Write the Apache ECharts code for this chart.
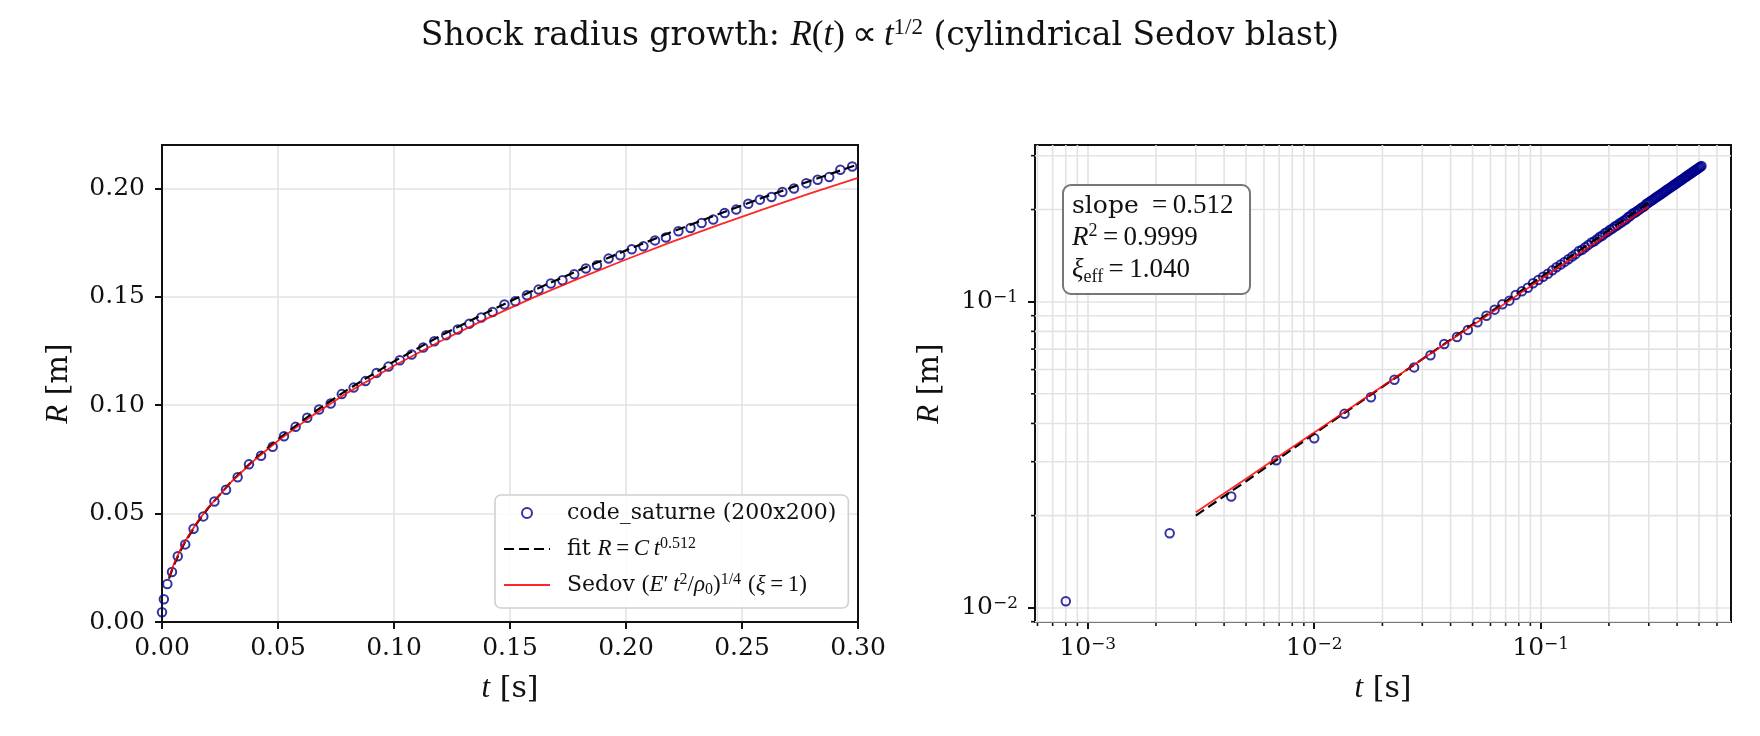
<!DOCTYPE html>
<html>
<head>
<meta charset="utf-8">
<title>Shock radius growth</title>
<script src="https://cdn.jsdelivr.net/npm/echarts@6/dist/echarts.min.js"></script>
<style>
  html, body { margin: 0; padding: 0; background: #fff; }
  #chart { width: 1760px; height: 736px; }
</style>
</head>
<body>
<div id="chart"></div>
<script>
// shock radius from code_saturne (200x200), t in s, R in m
const timeS = [
  0, 0.0008, 0.0023, 0.0043, 0.0068, 0.0100, 0.0136, 0.0178, 0.0226, 0.0276,
  0.0326, 0.0375, 0.0427, 0.0477, 0.0526, 0.0576, 0.0626, 0.0677, 0.0727, 0.0775,
  0.0826, 0.0877, 0.0925, 0.0976, 0.1025, 0.1076, 0.1126, 0.1174, 0.1225, 0.1275,
  0.1325, 0.1376, 0.1425, 0.1476, 0.1523, 0.1573, 0.1623, 0.1676, 0.1726, 0.1777,
  0.1827, 0.1875, 0.1925, 0.1975, 0.2025, 0.2075, 0.2125, 0.2172, 0.2226, 0.2278,
  0.2326, 0.2376, 0.2425, 0.2475, 0.2527, 0.2577, 0.2627, 0.2674, 0.2724, 0.2777,
  0.2826, 0.2876, 0.2924, 0.2975,
  0.3025, 0.3075, 0.3125, 0.3175, 0.3225, 0.3275, 0.3325, 0.3375, 0.3425, 0.3475,
  0.3525, 0.3575, 0.3625, 0.3675, 0.3725, 0.3775, 0.3825, 0.3875, 0.3925, 0.3975,
  0.4025, 0.4075, 0.4125, 0.4175, 0.4225, 0.4275, 0.4325, 0.4375, 0.4425, 0.4475,
  0.4525, 0.4575, 0.4625, 0.4675, 0.4725, 0.4775, 0.4825, 0.4875, 0.4925, 0.4975,
  0.5025, 0.5075, 0.5125
];
const radiusM = [
  0.0045, 0.0105, 0.0175, 0.0231, 0.0303, 0.0358, 0.0430, 0.0487, 0.0556, 0.0610,
  0.0668, 0.0727, 0.0767, 0.0808, 0.0857, 0.0900, 0.0942, 0.0980, 0.1008, 0.1051,
  0.1081, 0.1111, 0.1149, 0.1178, 0.1207, 0.1234, 0.1266, 0.1295, 0.1323, 0.1349,
  0.1376, 0.1404, 0.1430, 0.1464, 0.1479, 0.1507, 0.1533, 0.1561, 0.1576, 0.1604,
  0.1630, 0.1645, 0.1676, 0.1691, 0.1719, 0.1733, 0.1760, 0.1773, 0.1802, 0.1817,
  0.1840, 0.1856, 0.1886, 0.1902, 0.1929, 0.1948, 0.1960, 0.1983, 0.1999, 0.2024,
  0.2040, 0.2052, 0.2086, 0.2101,
  0.2119, 0.2137, 0.2154, 0.2172, 0.2189, 0.2207, 0.2224, 0.2241, 0.2258, 0.2275,
  0.2291, 0.2308, 0.2325, 0.2341, 0.2357, 0.2373, 0.2389, 0.2405, 0.2421, 0.2437,
  0.2452, 0.2468, 0.2483, 0.2499, 0.2514, 0.2529, 0.2544, 0.2559, 0.2574, 0.2589,
  0.2604, 0.2619, 0.2633, 0.2648, 0.2662, 0.2677, 0.2691, 0.2705, 0.2719, 0.2734,
  0.2748, 0.2761, 0.2775
];
// fit R = C t^0.512 and Sedov (xi = 1) curves, sampled
const curveT = [0.003, 0.005, 0.0075, 0.01, 0.015, 0.02, 0.03, 0.04, 0.05, 0.065, 0.08,
  0.1, 0.12, 0.14, 0.16, 0.18, 0.2, 0.22, 0.24, 0.26, 0.28, 0.3];
const fitR = [0.0200, 0.0259, 0.0319, 0.0370, 0.0455, 0.0527, 0.0649, 0.0752, 0.0843, 0.0964, 0.1072,
  0.1202, 0.1320, 0.1428, 0.1529, 0.1624, 0.1714, 0.1800, 0.1882, 0.1961, 0.2037, 0.2110];
const sedovR = [0.0205, 0.0264, 0.0324, 0.0374, 0.0458, 0.0529, 0.0648, 0.0748, 0.0836, 0.0953, 0.1058,
  0.1182, 0.1295, 0.1399, 0.1496, 0.1586, 0.1672, 0.1754, 0.1832, 0.1907, 0.1979, 0.2048];

// ticks
const linTicksY = [0, 0.05, 0.1, 0.15, 0.2];
const logTicksX = [0.001, 0.01, 0.1];
const logTicksY = [0.01, 0.1];
const minorTicksX = [0.0006, 0.0007, 0.0008, 0.0009, 0.002, 0.003, 0.004, 0.005, 0.006, 0.007, 0.008, 0.009,
  0.02, 0.03, 0.04, 0.05, 0.06, 0.07, 0.08, 0.09, 0.2, 0.3, 0.4, 0.5, 0.6];
const minorTicksY = [0.009, 0.02, 0.03, 0.04, 0.05, 0.06, 0.07, 0.08, 0.09, 0.2, 0.3];

const FONT = 'DejaVu Serif';
const MATH = 'Liberation Serif';
const INK = '#111';
const GRIDC = '#e3e3e3';
const NAVY = '#00008b';
const RED = 'rgba(255,0,0,0.85)';

const obs = timeS.map((t, i) => [t, radiusM[i]]);
const obsLog = obs.filter(p => p[0] > 0);
const fitLine = curveT.map((t, i) => [t, fitR[i]]);
const sedovLine = curveT.map((t, i) => [t, sedovR[i]]);

function mathRich(size, supSize, lh) {
	return {
		mi: { fontFamily: MATH, fontStyle: 'italic', fontSize: size, lineHeight: lh, color: INK },
		m: { fontFamily: MATH, fontSize: size, lineHeight: lh, color: INK },
		sup: { fontFamily: MATH, fontSize: supSize, lineHeight: Math.round(supSize * 0.7), verticalAlign: 'top', color: INK },
		sub: { fontFamily: MATH, fontSize: supSize, lineHeight: Math.round(supSize * 0.8), verticalAlign: 'bottom', color: INK },
	};
}

const legendLabels = {
	'code_saturne (200x200)': 'code_saturne (200x200)',
	'fit': 'fit {mi|R}{m|\u2009=\u2009}{mi|C\u2009t}{sup|0.512}',
	'sedov': 'Sedov {m|(}{mi|E}{m|\u2032\u2009}{mi|t}{sup|2}{m|/}{mi|\u03c1}{sub|0}{m|)}{sup|1/4} {m|(}{mi|\u03be}{m|\u2009=\u20091)}',
};

const tickLine = { length: 7, lineStyle: { color: INK, width: 2 } };
const labelBase = { fontFamily: FONT, fontSize: 25, color: INK };
const splitBase = { show: true, lineStyle: { color: GRIDC, width: 1.6 } };
const nameStyle = { fontFamily: FONT, fontSize: 30, color: INK, rich: mathRich(31, 20, 34) };
const logLabel = v => '10{sup|\u2212' + Math.round(-Math.log10(v)) + '}';
const logLabelRich = { sup: { fontFamily: FONT, fontSize: 17, lineHeight: 14, verticalAlign: 'top', color: INK } };
const gridBox = { width: 696, height: 477, top: 145, show: true, borderColor: INK, borderWidth: 2, backgroundColor: 'transparent', z: 1 };

// minor log ticks + grid lines on the right panel
function minorRender(dir) {
	return function (params, api) {
		const cs = params.coordSys;
		const p = api.coord([api.value(0), api.value(1)]);
		if (dir === 'x') {
			return { type: 'group', children: [
				{ type: 'line', shape: { x1: p[0], y1: cs.y, x2: p[0], y2: cs.y + cs.height }, style: { stroke: GRIDC, lineWidth: 1.6 } },
				{ type: 'line', shape: { x1: p[0], y1: cs.y + cs.height, x2: p[0], y2: cs.y + cs.height + 4 }, style: { stroke: INK, lineWidth: 1.6 } },
			] };
		}
		return { type: 'group', children: [
			{ type: 'line', shape: { x1: cs.x, y1: p[1], x2: cs.x + cs.width, y2: p[1] }, style: { stroke: GRIDC, lineWidth: 1.6 } },
			{ type: 'line', shape: { x1: cs.x - 4, y1: p[1], x2: cs.x, y2: p[1] }, style: { stroke: INK, lineWidth: 1.6 } },
		] };
	};
}

const chart = echarts.init(document.getElementById('chart'), null, { renderer: 'canvas' });

const option = {
	backgroundColor: '#fff',
	animation: false,
	title: {
		left: 'center',
		top: 11,
		text: 'Shock radius growth: {mi|R}{m|(}{mi|t}{m|)}{m|\u2009\u221d\u2009}{mi|t}{sup|1/2} (cylindrical Sedov blast)',
		textStyle: { fontFamily: FONT, fontSize: 33, fontWeight: 'normal', color: INK, lineHeight: 40, rich: mathRich(35, 23, 40) },
	},
	grid: [
		{ ...gridBox, left: 162 },
		{ ...gridBox, left: 1035 },
	],
	xAxis: [
		{
			gridIndex: 0, type: 'value', min: 0, max: 0.3, interval: 0.05,
			axisLine: { show: false, onZero: false },
			axisTick: tickLine,
			axisLabel: { ...labelBase, margin: 14, formatter: v => v.toFixed(2) },
			splitLine: splitBase,
			name: '{mi|t} [s]', nameLocation: 'middle', nameGap: 50, nameTextStyle: nameStyle,
		},
		{
			gridIndex: 1, type: 'log', logBase: 10, min: 0.000585, max: 0.692,
			axisLine: { show: false, onZero: false },
			axisTick: { ...tickLine, customValues: logTicksX },
			axisLabel: { ...labelBase, margin: 14, customValues: logTicksX, formatter: logLabel, rich: logLabelRich },
			splitLine: splitBase,
			name: '{mi|t} [s]', nameLocation: 'middle', nameGap: 50, nameTextStyle: nameStyle,
		},
	],
	yAxis: [
		{
			gridIndex: 0, type: 'value', min: 0, max: 0.22, interval: 0.05,
			axisLine: { show: false, onZero: false },
			axisTick: { ...tickLine, customValues: linTicksY },
			axisLabel: { ...labelBase, margin: 17, customValues: linTicksY, formatter: v => v.toFixed(2) },
			splitLine: splitBase,
			name: '{mi|R} [m]', nameLocation: 'middle', nameGap: 86, nameTextStyle: nameStyle,
		},
		{
			gridIndex: 1, type: 'log', logBase: 10, min: 0.00898, max: 0.3251,
			axisLine: { show: false, onZero: false },
			axisTick: { ...tickLine, customValues: logTicksY },
			axisLabel: { ...labelBase, margin: 17, customValues: logTicksY, formatter: logLabel, rich: logLabelRich },
			splitLine: splitBase,
			name: '{mi|R} [m]', nameLocation: 'middle', nameGap: 88, nameTextStyle: nameStyle,
		},
	],
	legend: {
		left: 495, top: 495,
		orient: 'vertical',
		selectedMode: false,
		itemWidth: 46, itemHeight: 10, itemGap: 10,
		padding: [5, 12, 10, 8],
		backgroundColor: 'rgba(255,255,255,0.85)',
		borderColor: '#d0d0d0', borderWidth: 1.6, borderRadius: 6,
		data: [
			{ name: 'code_saturne (200x200)', icon: 'circle', itemStyle: { color: 'rgba(0,0,0,0)', borderColor: NAVY, borderWidth: 2 } },
			{ name: 'fit', itemStyle: { opacity: 0 } },
			{ name: 'sedov', itemStyle: { opacity: 0 } },
		],
		formatter: name => legendLabels[name],
		textStyle: { fontFamily: FONT, fontSize: 22, lineHeight: 26, color: INK, padding: [0, 0, 0, 12], rich: mathRich(23, 16, 26) },
	},
	graphic: [
		{
			type: 'rect', left: 1062, top: 184, z: 100,
			shape: { width: 187, height: 109, r: 8 },
			style: { fill: '#fff', stroke: '#777', lineWidth: 2 },
		},
		{
			type: 'text', left: 1072, top: 190, z: 101,
			style: {
				text: 'slope {m|\u2009=\u20090.512}\n{mi|R}{sup|2}{m|\u2009=\u20090.9999}\n{mi|\u03be}{sub|eff}{m|\u2009=\u20091.040}',
				fontFamily: FONT, fontSize: 25, lineHeight: 32, fill: INK,
				rich: {
					mi: { fontFamily: MATH, fontStyle: 'italic', fontSize: 27, lineHeight: 32, fill: INK },
					m: { fontFamily: MATH, fontSize: 27, lineHeight: 32, fill: INK },
					sup: { fontFamily: MATH, fontSize: 18, lineHeight: 14, verticalAlign: 'top', fill: INK },
					sub: { fontFamily: MATH, fontSize: 18, lineHeight: 18, verticalAlign: 'bottom', fill: INK },
				},
			},
		},
	],
	series: [
		{
			name: 'code_saturne (200x200)', type: 'scatter', xAxisIndex: 0, yAxisIndex: 0, z: 3,
			symbol: 'circle', symbolSize: 8.5, clip: true,
			itemStyle: { color: 'rgba(0,0,0,0)', borderColor: NAVY, borderWidth: 2 },
			data: obs,
		},
		{
			name: 'fit', type: 'line', xAxisIndex: 0, yAxisIndex: 0, z: 4, symbol: 'none', clip: true,
			itemStyle: { color: '#000' },
			lineStyle: { color: '#000', width: 2.2, type: [10, 5] },
			data: fitLine,
		},
		{
			name: 'sedov', type: 'line', xAxisIndex: 0, yAxisIndex: 0, z: 5, symbol: 'none', clip: true,
			itemStyle: { color: RED },
			lineStyle: { color: RED, width: 1.8 },
			data: sedovLine,
		},
		{
			name: 'code_saturne log', type: 'scatter', xAxisIndex: 1, yAxisIndex: 1, z: 3,
			symbol: 'circle', symbolSize: 8.5,
			itemStyle: { color: 'rgba(0,0,0,0)', borderColor: NAVY, borderWidth: 2 },
			data: obsLog,
		},
		{
			name: 'fit log', type: 'line', xAxisIndex: 1, yAxisIndex: 1, z: 4, symbol: 'none',
			lineStyle: { color: '#000', width: 2.2, type: [10, 5] },
			data: fitLine,
		},
		{
			name: 'sedov log', type: 'line', xAxisIndex: 1, yAxisIndex: 1, z: 5, symbol: 'none',
			lineStyle: { color: RED, width: 1.8 },
			data: sedovLine,
		},
		{
			name: 'minor x', type: 'custom', xAxisIndex: 1, yAxisIndex: 1, z: 1, silent: true, clip: false,
			renderItem: minorRender('x'),
			data: minorTicksX.map(v => [v, 0.1]),
		},
		{
			name: 'minor y', type: 'custom', xAxisIndex: 1, yAxisIndex: 1, z: 1, silent: true, clip: false,
			renderItem: minorRender('y'),
			data: minorTicksY.map(v => [0.01, v]),
		},
	],
};

chart.setOption(option);
</script>
</body>
</html>
